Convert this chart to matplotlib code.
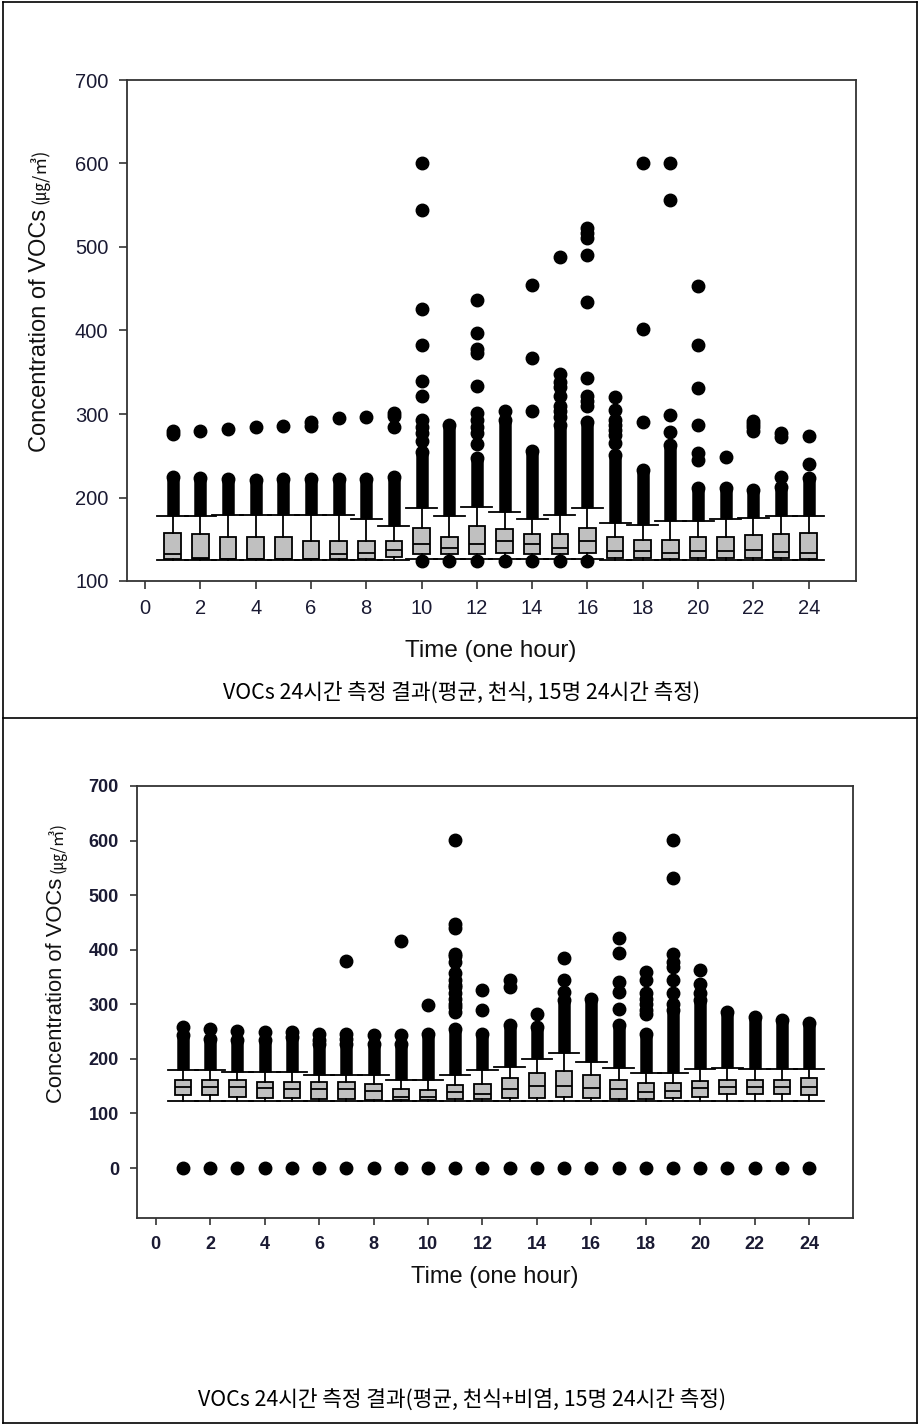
import matplotlib
matplotlib.use("Agg")
import matplotlib.pyplot as plt
from matplotlib.lines import Line2D

plt.rcParams['font.family'] = ['Liberation Sans', 'Noto Sans CJK KR', 'DejaVu Sans']

# ---------------- data ----------------
hours = [1, 2, 3, 4, 5, 6, 7, 8, 9, 10, 11, 12, 13, 14, 15, 16, 17, 18, 19, 20, 21, 22, 23, 24]
x_ticks = [0, 2, 4, 6, 8, 10, 12, 14, 16, 18, 20, 22, 24]

# Panel 1: asthma
p1_whislo = [125, 125, 125, 125, 125, 125, 125, 125, 125, 126, 126, 126, 126, 126, 126, 126,
             125, 125, 125, 125, 125, 125, 125, 125]
p1_q1 = [126, 126, 126, 126, 126, 126, 126, 126, 129, 132, 132, 132, 133, 132, 132, 133,
         128, 128, 126, 128, 128, 128, 127, 126]
p1_med = [132, 128, 126.5, 126.5, 126.5, 126.5, 132, 133.5, 137, 144, 139, 144, 148, 144, 140, 148,
          135.5, 135.5, 133, 135.5, 135.5, 137, 135, 133]
p1_q3 = [158, 156, 153, 153, 153, 147.5, 147.5, 147.5, 147.5, 164, 153, 166, 162, 156, 156, 164,
         153, 149, 149, 153, 153, 155, 156, 158]
p1_whishi = [178, 178, 179, 179, 179, 179, 179, 174, 166, 187, 178, 189, 183, 174, 179, 187,
             169, 167.5, 172, 172, 174, 176, 178, 178]
p1_dense_top = [224, 223, 222, 221, 222, 222, 222, 222, 225, 255, 287, 247, 293, 256, 287, 291,
                251, 233, 263, 211, 211, 209, 213, 223]
p1_outliers = [
    [276, 280], [280], [282], [285], [286], [286, 290], [295], [296], [284, 298, 301],
    [124, 268, 277, 285, 293, 321, 339, 383, 426, 544, 601],
    [124],
    [124, 264, 277, 285, 293, 301, 333, 373, 378, 397, 436],
    [124, 304],
    [124, 303, 367, 455],
    [124, 296, 303, 310, 321, 332, 338, 348, 488],
    [124, 310, 316, 321, 343, 434, 490, 511, 517, 523],
    [265, 275, 281, 287, 293, 305, 320],
    [291, 402, 601],
    [278, 299, 556, 601],
    [245, 253, 287, 331, 383, 453],
    [249],
    [280, 284, 288, 292],
    [225, 273, 277],
    [240, 274],
]

# Panel 2: asthma + rhinitis
p2_whislo = [123, 123, 123, 123, 123, 123, 123, 123, 123, 123, 123, 123, 123, 123, 123, 123,
             123, 123, 123, 123, 123, 123, 123, 123]
p2_q1 = [133, 133, 131, 129, 129, 127, 127, 124, 124, 124, 127, 127, 129, 129, 131, 129,
         127, 127, 129, 131, 136, 136, 136, 134]
p2_med = [148, 148, 148, 146, 145, 144, 144, 142, 130, 131, 139, 136, 144, 150, 150, 146,
          144, 139, 141, 146, 148, 148, 148, 148]
p2_q3 = [162, 162, 161, 157.5, 157.5, 157.5, 157.5, 154.5, 145, 143, 153, 154.5, 165, 174, 177, 170,
         162, 156, 156, 159, 161, 162, 162, 165]
p2_whishi = [179, 179, 176, 176, 176, 171, 171, 171, 162, 162, 171, 179, 186, 199, 210, 195,
             183, 174, 174, 181, 183, 181, 181, 181]
p2_dense_top = [243, 237, 234, 234, 240, 228, 228, 228, 228, 246, 255, 246, 262, 258, 307, 310,
                262, 246, 289, 307, 286, 277, 271, 265]
p2_outliers = [
    [0, 258], [0, 254], [0, 252], [0, 249], [0, 249], [0, 235, 246], [0, 236, 246, 380], [0, 244],
    [0, 244, 416], [0, 298],
    [0, 286, 295, 301, 310, 320, 332, 335, 345, 357, 378, 388, 393, 439, 448, 601],
    [0, 290, 327], [0, 331, 344], [0, 283], [0, 323, 345, 384], [0],
    [0, 292, 323, 341, 394, 421],
    [0, 283, 290, 300, 310, 320, 344, 359],
    [0, 301, 320, 344, 368, 378, 393, 531, 601],
    [0, 320, 338, 362], [0], [0], [0], [0],
]

caption1 = "VOCs 24시간 측정 결과(평균, 천식, 15명 24시간 측정)"
caption2 = "VOCs 24시간 측정 결과(평균, 천식+비염, 15명 24시간 측정)"
xlabel = "Time (one hour)"
ylabel_main = "Concentration of VOCs"
ylabel_unit = "(㎍/㎥)"

# ---------------- figure ----------------
W, H = 919, 1424
fig = plt.figure(figsize=(W / 100, H / 100), dpi=100)
fig.patch.set_facecolor('white')

ax1 = fig.add_axes([126.5 / W, 1 - 581 / H, (855.7 - 126.5) / W, (581 - 80) / H])
ax2 = fig.add_axes([137 / W, 1 - 1217.7 / H, (852.7 - 137) / W, (1217.7 - 786) / H])

MS = 9
LBL = '#1a1a33'


def draw_panel(ax, q1, med, q3, wlo, whi, dense_top, outliers):
    stats = []
    for a, m, b, lo, hi in zip(q1, med, q3, wlo, whi):
        stats.append(dict(med=m, q1=a, q3=b, whislo=lo, whishi=hi, fliers=[]))
    ax.bxp(stats, positions=hours, widths=0.6, capwidths=1.12, patch_artist=True,
           showfliers=False, manage_ticks=False,
           boxprops=dict(facecolor='#c0c0c0', edgecolor='black', linewidth=1.3),
           medianprops=dict(color='black', linewidth=1.3),
           whiskerprops=dict(color='black', linewidth=1.3),
           capprops=dict(color='black', linewidth=1.3))
    ax.vlines(hours, whi, dense_top, colors='black', linewidth=MS, capstyle='butt', zorder=3)
    ax.plot(hours, dense_top, 'o', color='black', ms=MS, ls='none', zorder=3)
    xs, ys = [], []
    for h, vals in zip(hours, outliers):
        for v in vals:
            xs.append(h)
            ys.append(v)
    ax.plot(xs, ys, 'o', color='black', ms=MS, ls='none', zorder=3)
    ax.set_xticks(x_ticks)
    for s in ax.spines.values():
        s.set_linewidth(1.3)
        s.set_color('#333333')


draw_panel(ax1, p1_q1, p1_med, p1_q3, p1_whislo, p1_whishi, p1_dense_top, p1_outliers)
ax1.set_xlim(-0.67, 25.7)
ax1.set_ylim(100, 700)
ax1.set_yticks([100, 200, 300, 400, 500, 600, 700])
ax1.tick_params(direction='out', length=6, width=1.2, color='#333333', pad=7,
                labelsize=14.5, labelcolor=LBL)

draw_panel(ax2, p2_q1, p2_med, p2_q3, p2_whislo, p2_whishi, p2_dense_top, p2_outliers)
ax2.set_xlim(-0.69, 25.6)
ax2.set_ylim(-91, 700)
ax2.set_yticks([0, 100, 200, 300, 400, 500, 600, 700])
ax2.tick_params(direction='out', length=5, width=1.2, color='#333333', pad=8,
                labelsize=13, labelcolor=LBL)
for lab in ax2.get_xticklabels() + ax2.get_yticklabels():
    lab.set_fontweight('bold')

# x labels
fig.text(491 / W, 1 - 651 / H, xlabel, ha='center', va='center', fontsize=17.5, color='#111111')
fig.text(495 / W, 1 - 1277 / H, xlabel, ha='center', va='center', fontsize=17, color='#111111')


def ylabel(xb, yb, size, usize):
    t = fig.text(xb / W, 1 - yb / H, ylabel_main, rotation=90, rotation_mode='anchor',
                 ha='left', va='baseline', fontsize=size, color='#111111')
    fig.canvas.draw()
    bb = t.get_window_extent()
    fig.text(xb / W, (bb.y1 + 5) / H, ylabel_unit, rotation=90, rotation_mode='anchor',
             ha='left', va='baseline', fontsize=usize, color='#111111',
             family=['Noto Sans CJK KR', 'DejaVu Sans'])


ylabel(46, 452, 17, 13)
ylabel(62, 1103, 15.8, 12)

# captions
fig.text(462 / W, 1 - 693 / H, caption1, ha='center', va='center', fontsize=15.4,
         family=['Noto Sans CJK KR', 'DejaVu Sans'], color='black')
fig.text(462 / W, 1 - 1400 / H, caption2, ha='center', va='center', fontsize=15.4,
         family=['Noto Sans CJK KR', 'DejaVu Sans'], color='black')

# table frame
def fline(x0, y0, x1, y1):
    fig.add_artist(Line2D([x0 / W, x1 / W], [1 - y0 / H, 1 - y1 / H], transform=fig.transFigure,
                          color='black', linewidth=1.2))

fline(3, 2, 917, 2)
fline(3, 2, 3, 1423)
fline(917, 2, 917, 1423)
fline(3, 718, 917, 718)
fline(3, 1423, 917, 1423)

fig.savefig("out.png", dpi=100)
